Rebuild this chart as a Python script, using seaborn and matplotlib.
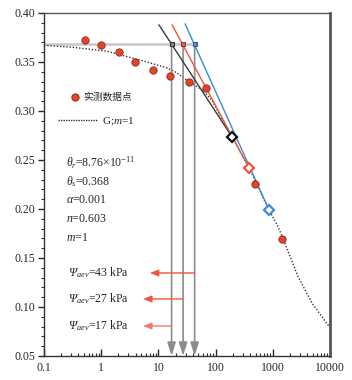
import matplotlib
matplotlib.use('Agg')
import matplotlib.pyplot as plt
import seaborn as sns
import numpy as np
import pandas as pd

# measured points
psi_obs = [0.52, 1.0, 2.05, 3.9, 8.1, 16, 34, 68, 490, 1450]
theta_obs = [0.372, 0.367, 0.360, 0.350, 0.342, 0.336, 0.330, 0.3235, 0.2255, 0.169]

# fitted curve (G; m=1)
psi_fit = [0.1, 0.32, 1.26, 4.77, 14.1, 21, 26.9, 60, 86, 194, 384, 860, 1233, 1507,
           2761, 4842, 9500]
theta_fit = [0.367, 0.365, 0.361, 0.352, 0.344, 0.339, 0.334, 0.321, 0.311, 0.2735,
             0.242, 0.199, 0.182, 0.170, 0.131, 0.104, 0.0806]

# tangent lines: start / tangent point
tan_psi0 = [10.2, 17.3, 29.2]
tan_th0 = [0.388, 0.388, 0.389]
tan_psi1 = [194, 384, 860]
tan_th1 = [0.2735, 0.242, 0.199]
tan_colors = ['#3a3a3a', '#f0553c', '#3d8ad6']
sq_edges = ['#333333', '#b03020', '#1f5fa8']

theta_s = 0.368
aev = [17, 27, 43]
arrow_y = [0.0806, 0.1082, 0.1347]
arrow_tip = [5.4, 5.4, 7.1]
arrow_colors = ['#f37a68', '#f0553c', '#f0553c']

params = [r'$\theta_r$=8.76×10$^{\mathsf{-11}}$', r'$\theta_s$=0.368',
          r'$\alpha$=0.001', r'$n$=0.603', r'$m$=1']
param_y = [0.2469, 0.2276, 0.2092, 0.1898, 0.1704]

sns.set_style('ticks')
plt.rcParams['font.family'] = ['Liberation Serif', 'DejaVu Serif']
plt.rcParams['mathtext.fontset'] = 'custom'
plt.rcParams['mathtext.rm'] = 'Liberation Serif:italic'
plt.rcParams['mathtext.it'] = 'Liberation Serif:italic'
plt.rcParams['mathtext.sf'] = 'Liberation Serif'

fig = plt.figure(figsize=(3.52, 3.80), dpi=100)
ax = fig.add_axes([0.125, 0.0632, 0.8125, 0.9026])

df_fit = pd.DataFrame({'psi': psi_fit, 'theta': theta_fit})
sns.lineplot(data=df_fit, x='psi', y='theta', ax=ax, color='#333333',
             linestyle=(0, (1, 1.3)), lw=1.0, zorder=2)

# theta_s line
ax.plot([0.1, aev[2]], [theta_s, theta_s], color='#c8c8c8', lw=1.8, zorder=1)

for i in range(3):
    ax.plot([tan_psi0[i], tan_psi1[i]], [tan_th0[i], tan_th1[i]],
            color=tan_colors[i], lw=1.0, zorder=3)
    ax.plot(tan_psi1[i], tan_th1[i], marker='D', ms=5.5, mfc='white',
            mec=tan_colors[i] if i else '#111111', mew=1.6, zorder=5)
    ax.plot(aev[i], theta_s, marker='s', ms=3.5, mfc='#8a8a8a',
            mec=sq_edges[i], mew=0.8, zorder=6)
    # down arrows
    ax.annotate('', xy=(aev[i], 0.05), xytext=(aev[i], theta_s),
                arrowprops=dict(arrowstyle='-|>,head_length=0.8,head_width=0.25',
                                color='#8c8c8c', lw=1.2, shrinkA=0, shrinkB=0),
                zorder=2)
    # red arrows
    ax.annotate('', xy=(arrow_tip[i], arrow_y[i]), xytext=(aev[i], arrow_y[i]),
                arrowprops=dict(arrowstyle='-|>,head_length=0.5,head_width=0.2',
                                color=arrow_colors[i], lw=1.0, shrinkA=0, shrinkB=0),
                zorder=2)
    ax.text(0.26, arrow_y[i], r'$\Psi_{\mathrm{aev}}$=%d kPa' % aev[i],
            fontsize=8.5, va='center', ha='left')

df_obs = pd.DataFrame({'psi': psi_obs, 'theta': theta_obs})
sns.scatterplot(data=df_obs, x='psi', y='theta', ax=ax, s=28, color='#e2452a',
                edgecolor='#8a2a18', linewidth=0.6, zorder=7)

for t, yy in zip(params, param_y):
    ax.text(0.24, yy, t, fontsize=8.5, va='center', ha='left')

# legends
h1 = ax.scatter([], [], s=28, color='#e2452a', edgecolor='#8a2a18', linewidth=0.6)
leg1 = ax.legend([h1], ['实测数据点'], loc='center left', bbox_to_anchor=(0.094, 0.755),
                 frameon=False, borderpad=0, borderaxespad=0, handlelength=0.8,
                 handletextpad=0.5, prop={'family': ['Noto Sans CJK SC'], 'size': 7})
ax.add_artist(leg1)
h2, = ax.plot([], [], color='#333333', linestyle=(0, (1, 0.8)), lw=1.0)
ax.legend([h2], ['G;$m$=1'], loc='center left', bbox_to_anchor=(0.049, 0.685),
          frameon=False, borderpad=0, borderaxespad=0, handlelength=3.6,
          handletextpad=0.35, prop={'size': 8})

ax.set_xscale('log')
ax.set_xlim(0.1, 10000)
ax.set_ylim(0.05, 0.40)
ax.set_xticks([0.1, 1, 10, 100, 1000, 10000])
ax.set_xticklabels(['0.1', '1', '10', '100', '1000', '10000'])
ax.set_yticks(np.arange(0.05, 0.401, 0.05))
ax.set_yticklabels(['%.2f' % v for v in np.arange(0.05, 0.401, 0.05)])
ax.set_yticks(np.arange(0.05, 0.401, 0.01), minor=True)
ax.tick_params(axis='x', which='major', direction='in', length=5, width=1, labelsize=8.5, pad=4)
ax.tick_params(axis='x', which='minor', direction='in', length=2.5, width=0.8)
ax.tick_params(axis='y', which='major', direction='out', length=4, width=1, labelsize=8.5, pad=2)
ax.tick_params(axis='y', which='minor', direction='out', length=2, width=0.8)
ax.set_xlabel('')
ax.set_ylabel('')

for s in ['left', 'bottom', 'top']:
    ax.spines[s].set_color('#333333')
    ax.spines[s].set_linewidth(1.0)
ax.spines['right'].set_color('#555555')
ax.spines['right'].set_linewidth(2.0)
ax.spines['top'].set_color('#555555')

fig.savefig('out.png', dpi=100)
